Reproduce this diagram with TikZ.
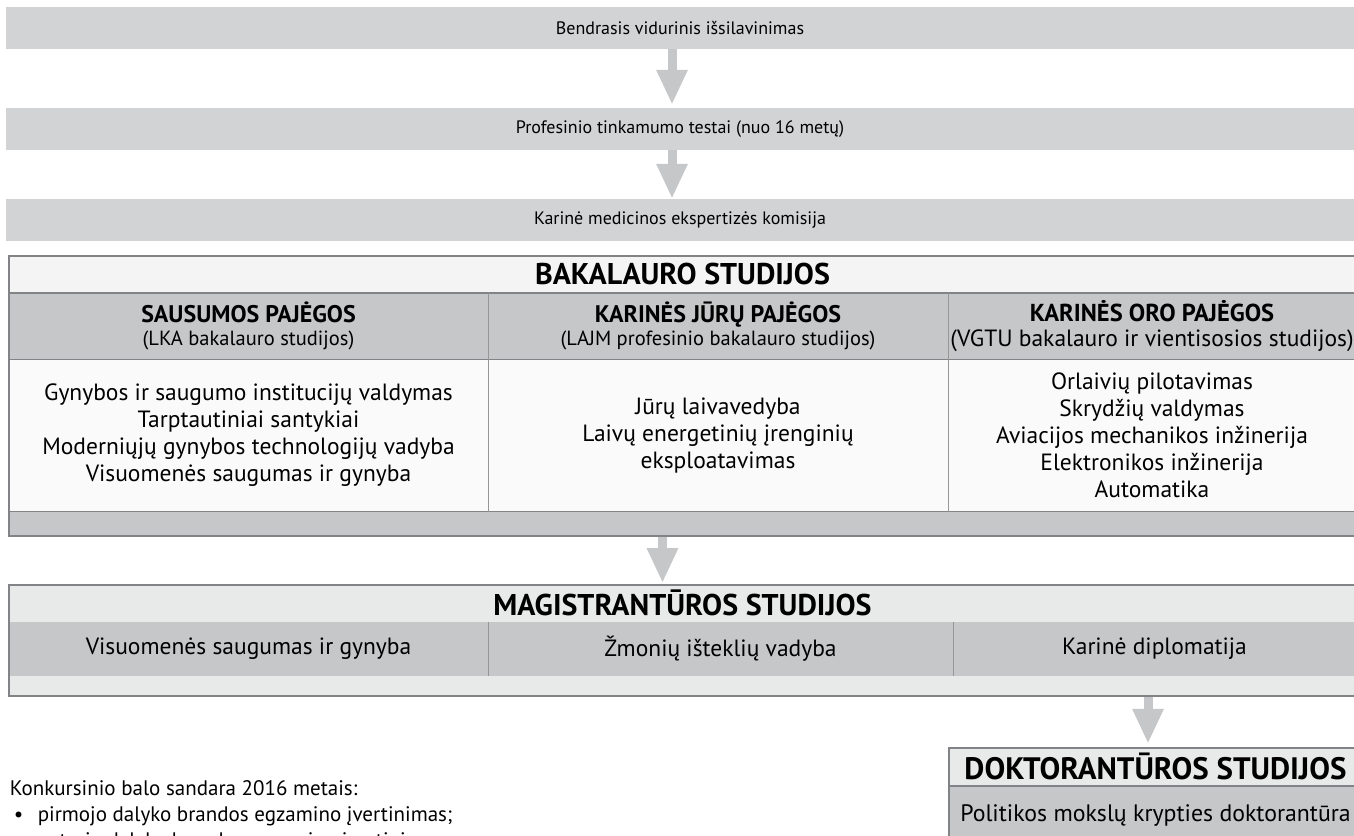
\documentclass[tikz,border=0pt]{standalone}
\usepackage{fontspec}
\setmainfont{PT Sans}
\usetikzlibrary{arrows.meta, positioning}

\definecolor{bargray}{HTML}{D1D3D4}
\definecolor{cellgray}{HTML}{C6C7C9}
\definecolor{palegray}{HTML}{E8E9E9}
\definecolor{offwhite}{HTML}{F4F4F4}
\definecolor{paper}{HTML}{FAFAFA}
\definecolor{framegray}{HTML}{818386}
\definecolor{flowgray}{HTML}{C6C7C9}

\newcommand{\sizefont}[2]{\fontsize{#1}{#2}\selectfont}

\tikzset{
    stage/.style={fill=bargray, inner sep=0pt, minimum width=1348pt, minimum height=42pt, font=\sizefont{18}{21}},
    cell/.style={inner sep=0pt, align=center, font=\sizefont{23.5}{27}},
    headcell/.style={cell, font=\bfseries\sizefont{30}{32}},
    frame/.style={draw=framegray, line width=1.8pt, inner sep=0pt},
    rule/.style={draw=framegray, line width=1.6pt},
    divider/.style={draw=framegray!85, line width=1pt},
    flow/.style={draw=flowgray, line width=9pt, -{Triangle[width=29pt, length=35pt]}},
}

\begin{document}
\begin{tikzpicture}[x=1pt, y=-1pt]

    \useasboundingbox (0,0) rectangle (1354,835);
    \clip (0,0) rectangle (1354,835);

    % Admission steps
    \node[stage] (vidurinis) at (680, 28) {Bendrasis vidurinis išsilavinimas};
    \node[stage] (testai) at (680, 129) {Profesinio tinkamumo testai (nuo 16 metų)};
    \node[stage] (komisija) at (680, 220) {Karinė medicinos ekspertizės komisija};

    \draw[flow, shorten >=3pt] ([xshift=-8pt]vidurinis.south) -- ([xshift=-8pt]testai.north);
    \draw[flow] ([xshift=-8pt]testai.south) -- ([xshift=-8pt]komisija.north);


    % Bachelor studies
    \node[headcell, fill=offwhite, minimum width=1347pt, minimum height=36.7pt] (bakhead) at (682.5, 274.3) {BAKALAURO STUDIJOS};

    \node[cell, fill=cellgray, minimum width=479pt, minimum height=66.6pt, font=\sizefont{20.5}{23}] (sausumos) at (248.5, 326)
        {\textbf{\sizefont{24}{23}SAUSUMOS PAJĖGOS}\\(LKA bakalauro studijos)};
    \node[cell, fill=cellgray, minimum width=460pt, minimum height=66.6pt, font=\sizefont{20.5}{23}] (jura) at (718, 326)
        {\textbf{\sizefont{24}{23}KARINĖS JŪRŲ PAJĖGOS}\\(LAJM profesinio bakalauro studijos)};
    \node[cell, fill=cellgray, minimum width=408pt, minimum height=66.6pt, font=\sizefont{23.5}{25}] (oras) at (1152, 326)
        {\textbf{\sizefont{24.5}{25}KARINĖS ORO PAJĖGOS}\\(VGTU bakalauro ir vientisosios studijos)};

    \node[cell, fill=paper, minimum width=479pt, minimum height=152.4pt] (sausumosprog) at (248.5, 435.5)
        {Gynybos ir saugumo institucijų valdymas\\Tarptautiniai santykiai\\Moderniųjų gynybos technologijų vadyba\\Visuomenės saugumas ir gynyba};
    \node[cell, fill=paper, minimum width=460pt, minimum height=152.4pt] (juraprog) at (718, 435.5)
        {Jūrų laivavedyba\\Laivų energetinių įrenginių\\eksploatavimas};
    \node[cell, fill=paper, minimum width=408pt, minimum height=152.4pt] (orasprog) at (1152, 435.5)
        {Orlaivių pilotavimas\\Skrydžių valdymas\\Aviacijos mechanikos inžinerija\\Elektronikos inžinerija\\Automatika};

    \node[cell, fill=cellgray, minimum width=1347pt, minimum height=24.3pt] (bakfoot) at (682.5, 523.85) {};

    \node[frame, minimum width=1347pt, minimum height=280pt] (bak) at (682.5, 396) {};
    \draw[rule] (bakhead.south west) -- (bakhead.south east);
    \draw[rule] (sausumos.south west) -- (sausumos.south west -| bak.east);
    \draw[rule] (bakfoot.north west) -- (bakfoot.north east);
    \draw[divider] (sausumos.north east) -- (sausumosprog.south east);
    \draw[divider] (jura.north east) -- (juraprog.south east);


    % Master studies
    \node[headcell, fill=palegray, minimum width=1347pt, minimum height=36.7pt] (maghead) at (682.5, 603.35) {MAGISTRANTŪROS STUDIJOS};
    \node[cell, fill=cellgray, minimum width=479pt, minimum height=54pt] (saugumas) at (248.5, 648.7) {Visuomenės saugumas ir gynyba};
    \node[cell, fill=cellgray, minimum width=465pt, minimum height=54pt] (istekliai) at (720.5, 648.7) {Žmonių išteklių vadyba};
    \node[cell, fill=cellgray, minimum width=403pt, minimum height=54pt] (diplomatija) at (1154.5, 648.7) {Karinė diplomatija};
    \node[cell, fill=palegray, minimum width=1347pt, minimum height=20pt] (magfoot) at (682.5, 685.7) {};

    \node[frame, minimum width=1347pt, minimum height=110.7pt] (mag) at (682.5, 640.35) {};
    \draw[divider] (saugumas.north east) -- (saugumas.south east);
    \draw[divider] (istekliai.north east) -- (istekliai.south east);

    \draw[flow, shorten >=1pt] ([xshift=-20pt]bak.south) -- ([xshift=-20pt]mag.north);


    % Doctoral studies
    \node[headcell, fill=palegray, minimum width=413pt, minimum height=38.3pt, font=\bfseries\sizefont{31}{32}] (dokhead) at (1155.5, 766.85) {DOKTORANTŪROS STUDIJOS};
    \node[cell, fill=cellgray, minimum width=413pt, minimum height=60pt, font=\sizefont{23.8}{27}] (dokkryptis) at (1155.5, 816) {Politikos mokslų krypties doktorantūra};

    \node[frame, minimum width=413pt, minimum height=98.3pt] (dok) at (1155.5, 796.85) {};
    \draw[rule] (dokhead.south west) -- (dokhead.south east);

    \draw[flow, shorten >=3pt] ([xshift=-7.5pt]dok.north |- mag.south) -- ([xshift=-7.5pt]dok.north);


    % Score note
    \node[anchor=north west, align=left, inner sep=0pt, font=\sizefont{21}{26}] (konkursas) at (9.6, 780)
        {Konkursinio balo sandara 2016 metais:\\
         \hspace*{4pt}\makebox[24pt][l]{•}pirmojo dalyko brandos egzamino įvertinimas;\\
         \hspace*{4pt}\makebox[24pt][l]{•}antrojo dalyko brandos egzamino įvertinimas;};

\end{tikzpicture}
\end{document}
